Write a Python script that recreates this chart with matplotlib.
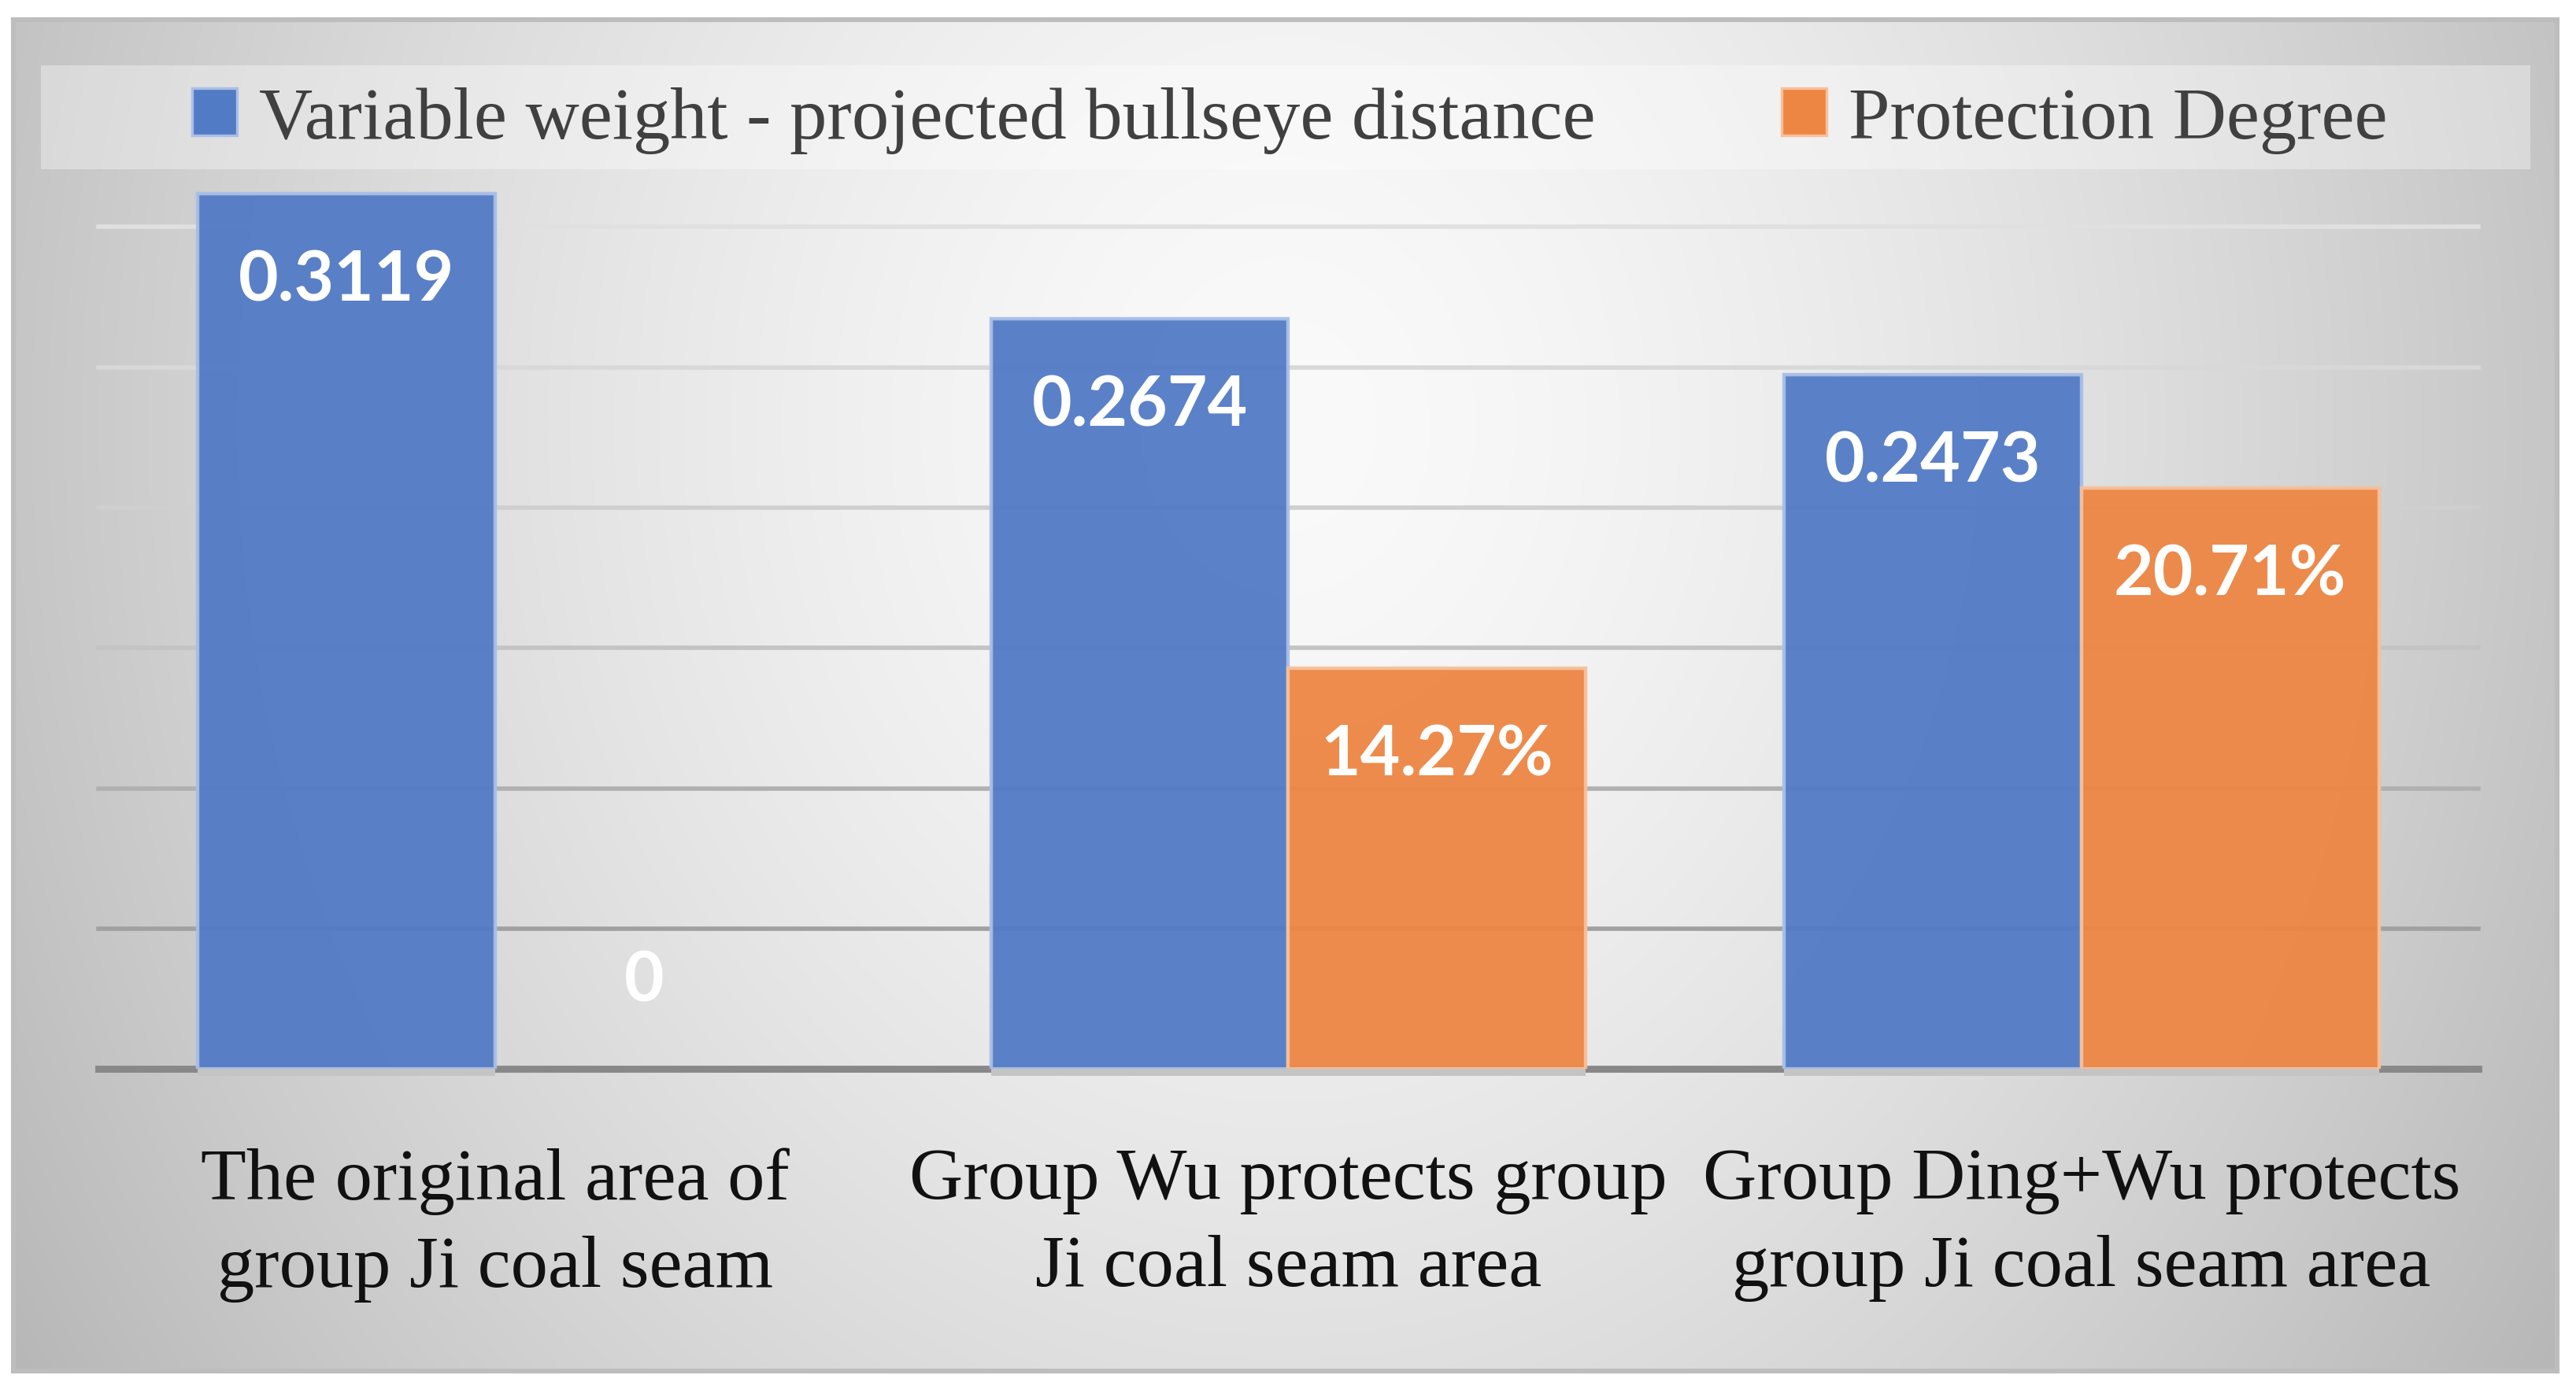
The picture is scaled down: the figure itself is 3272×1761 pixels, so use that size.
import numpy as np
import matplotlib
matplotlib.use("Agg")
import matplotlib.pyplot as plt
from matplotlib.patches import Patch, Rectangle

# data
categories = ["The original area of\ngroup Ji coal seam",
              "Group Wu protects group\nJi coal seam area",
              "Group Ding+Wu protects\ngroup Ji coal seam area"]
series_names = ["Variable weight - projected bullseye distance", "Protection Degree"]
weight_vals = [0.3119, 0.2674, 0.2473]
protect_vals = [0.0, 0.1427, 0.2071]
weight_labels = ["0.3119", "0.2674", "0.2473"]
protect_labels = ["0", "14.27%", "20.71%"]
grid_ticks = [0.0, 0.05, 0.10, 0.15, 0.20, 0.25, 0.30]

blue = "#527bc6"
orange = "#ed8643"
serif = ["Liberation Serif", "DejaVu Serif"]
sans_bold = ["Lato", "DejaVu Sans"]

fig = plt.figure(figsize=(16.365, 8.805), dpi=200)
fig.patch.set_facecolor("white")

# radial grey background of the chart frame
bg = fig.add_axes([0.0051, 0.011, 0.9872, 0.975])
u, v = np.meshgrid(np.linspace(0, 1, 600), np.linspace(0, 1, 400))
d = np.sqrt(((u - 0.5) / 0.5) ** 2 + ((v - 0.3) / 1.1) ** 2)
shade = np.clip(250 - 52 * d ** 1.5, 180, 250) / 255.0
bg.imshow(np.dstack([shade, shade, shade]), extent=(0, 1, 1, 0), aspect="auto",
          interpolation="bilinear")
bg.set_xlim(0, 1)
bg.set_ylim(1, 0)
bg.set_xticks([])
bg.set_yticks([])
for s in bg.spines.values():
    s.set_color("#bdbdbd")
    s.set_linewidth(2.2)

# legend band
fig.patches.append(Rectangle((0.0159, 0.878), 0.9662, 0.0746, transform=fig.transFigure,
                             facecolor="white", alpha=0.35, edgecolor="none", zorder=1))

ax = fig.add_axes([0.0383, 0.2287, 0.9234, 0.6481])
ax.set_facecolor("none")
ax.set_xlim(-0.5, 2.5)
ax.set_ylim(0, 0.32)
for s in ax.spines.values():
    s.set_visible(False)

grid_cols = ["#888888", "#a0a0a0", "#b0b0b0", "#c3c3c3", "#cfcfcf", "#d8d8d8", "#e0e0e0"]
for t, c in zip(grid_ticks, grid_cols):
    ax.axhline(t, color=c, lw=3.2 if t == 0 else 2.0, zorder=1, clip_on=False)

x = np.arange(len(categories))
w = 0.375
b1 = ax.bar(x - w / 2, weight_vals, w, color=blue, alpha=0.95,
            edgecolor="#a9bfe6", linewidth=[1.6 if vv > 0 else 0 for vv in weight_vals],
            zorder=3)
b2 = ax.bar(x + w / 2, protect_vals, w, color=orange, alpha=0.95,
            edgecolor="#f6c09c", linewidth=[1.6 if vv > 0 else 0 for vv in protect_vals],
            zorder=3)
# soft shadow under the bars on the base line
for xs, vals in ((x - w / 2, weight_vals), (x + w / 2, protect_vals)):
    for xi, vi in zip(xs, vals):
        if vi > 0:
            ax.bar(xi, -0.0025, w, color="#c4c4c4", zorder=2, clip_on=False)

for bars, labels in ((b1, weight_labels), (b2, protect_labels)):
    for rect, lab in zip(bars, labels):
        h = rect.get_height()
        off = -40 if h > 0.05 else 40
        ax.annotate(lab, (rect.get_x() + rect.get_width() / 2, h), xytext=(0, off),
                    textcoords="offset points", ha="center", va="center",
                    color="white", fontsize=31.5, fontweight="bold", family=sans_bold,
                    zorder=5)

ax.set_yticks([])
ax.set_xticks(x)
ax.set_xticklabels(categories, fontsize=34, family=serif, color="#111111", linespacing=1.4)
ax.tick_params(axis="x", length=0, pad=36)

handles = [Patch(facecolor=blue, edgecolor="#a9bfe6", linewidth=1.2),
           Patch(facecolor=orange, edgecolor="#f6c09c", linewidth=1.2)]
leg = fig.legend(handles, series_names, loc="center", bbox_to_anchor=(0.5006, 0.913),
                 ncol=2, frameon=False, handlelength=0.6, handleheight=0.6,
                 handletextpad=0.3, columnspacing=2.5,
                 prop={"family": serif, "size": 34})
for t in leg.get_texts():
    t.set_color("#404040")

fig.savefig("out.png", dpi=200)
